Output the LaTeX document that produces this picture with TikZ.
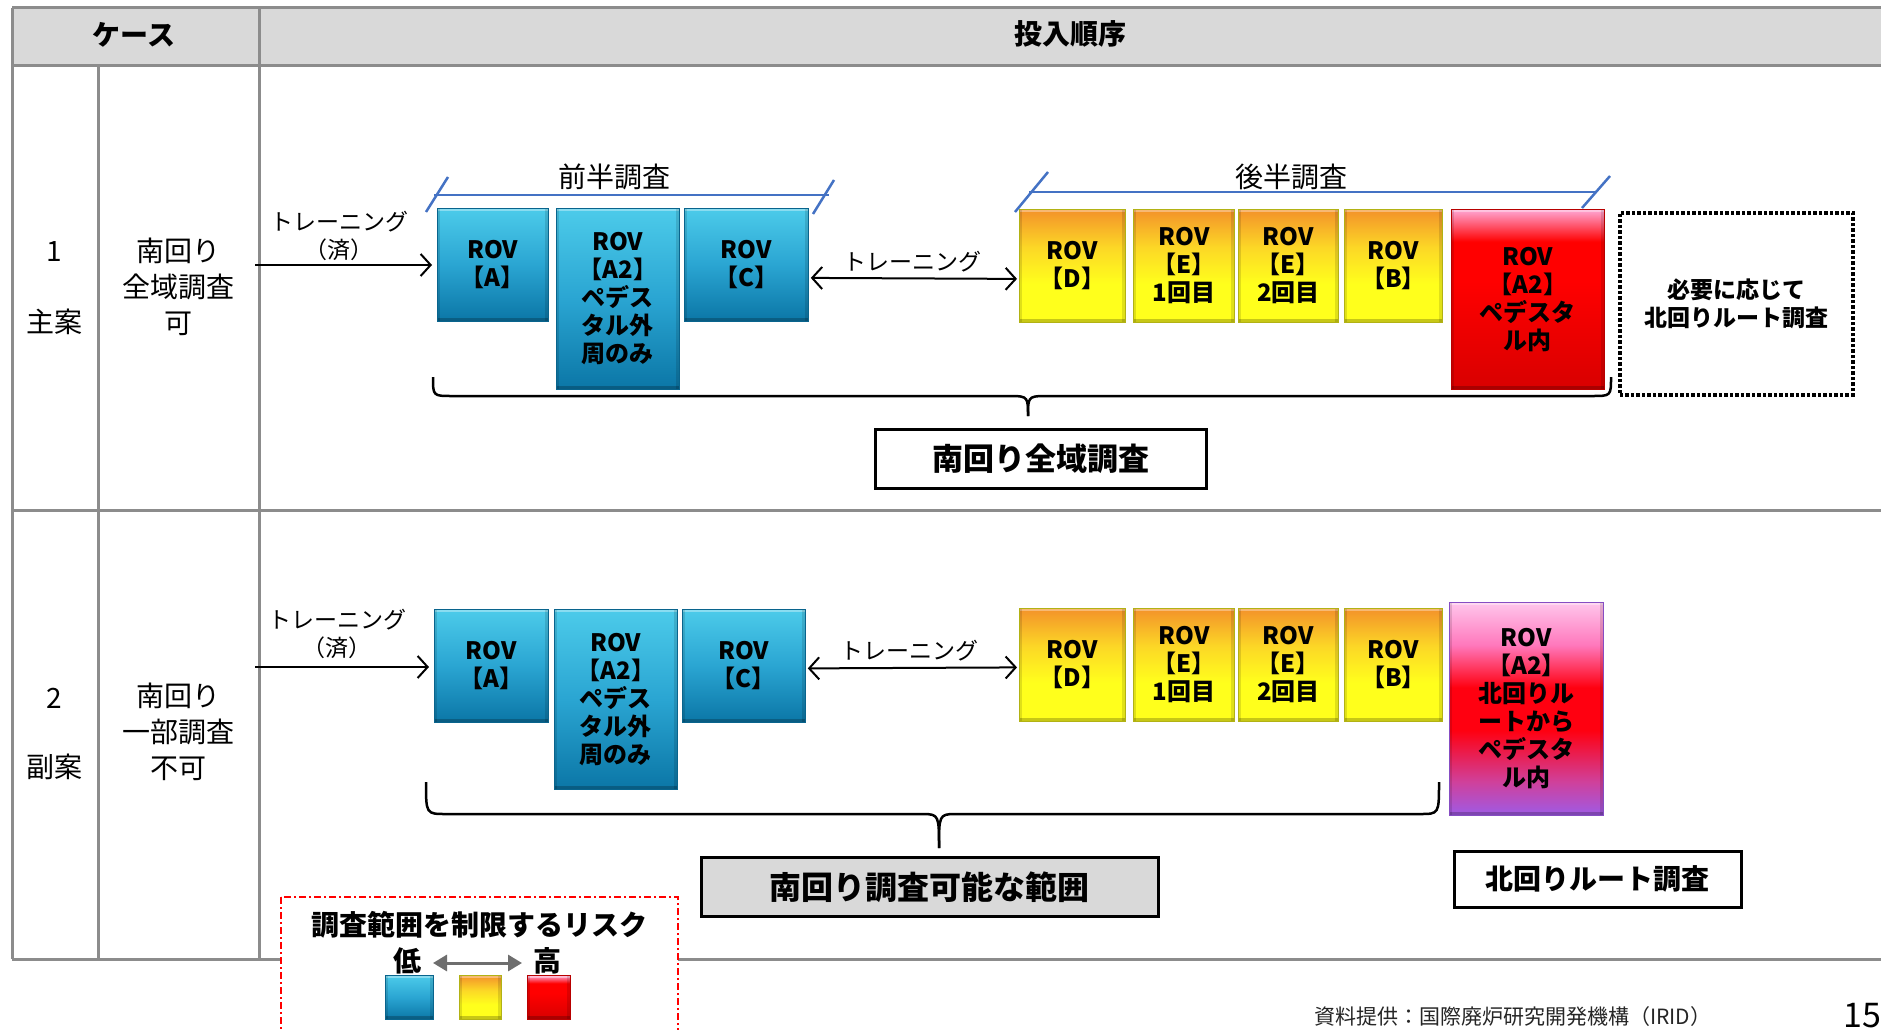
\documentclass[tikz,border=0pt]{standalone}
\usepackage{fontspec}
\setmainfont{Noto Sans CJK JP}
\usetikzlibrary{arrows.meta,calc}
\definecolor{tblline}{HTML}{8C8C8C}
\definecolor{hdrfill}{HTML}{D9D9D9}
\definecolor{bluebr}{HTML}{4472C4}
\definecolor{blueA}{HTML}{0B76A6}
\definecolor{blueB}{HTML}{2AA5D2}
\definecolor{blueC}{HTML}{4CCBEA}
\definecolor{yelA}{HTML}{FFFF1C}
\definecolor{yelB}{HTML}{FCD826}
\definecolor{yelC}{HTML}{F3922A}
\definecolor{redA}{HTML}{D80000}
\definecolor{redB}{HTML}{FF0000}
\definecolor{redC}{HTML}{FFA8D6}
\definecolor{purA}{HTML}{9E5BE6}
\definecolor{purB}{HTML}{D0409A}
\definecolor{purC}{HTML}{FF0010}
\definecolor{purD}{HTML}{FF78BC}
\definecolor{purE}{HTML}{FFC6EC}
\definecolor{legarrow}{HTML}{6E6E6E}
\pgfdeclareverticalshading{blueshade}{100bp}{color(0bp)=(blueA); color(25bp)=(blueA); color(50bp)=(blueB); color(75bp)=(blueC); color(100bp)=(blueC)}
\pgfdeclareverticalshading{yelshade}{100bp}{color(0bp)=(yelA); color(25bp)=(yelA); color(42bp)=(yelA); color(58bp)=(yelB); color(75bp)=(yelC); color(100bp)=(yelC)}
\pgfdeclareverticalshading{redshade}{100bp}{color(0bp)=(redA); color(25bp)=(redA); color(55bp)=(redB); color(66bp)=(redB); color(75bp)=(redC); color(100bp)=(redC)}
\pgfdeclareverticalshading{purshade}{100bp}{color(0bp)=(purA); color(25bp)=(purA); color(33bp)=(purB); color(45bp)=(purC); color(55bp)=(purC); color(65bp)=(purD); color(75bp)=(purE); color(100bp)=(purE)}
\tikzset{
  tline/.style={draw=tblline, line width=3pt},
  bevel/.style={path picture={
    \draw[white, opacity=0.35, line width=3pt]
      ([yshift=-1.5pt]path picture bounding box.north west) -- ([yshift=-1.5pt]path picture bounding box.north east);
    \draw[black, opacity=0.22, line width=3pt]
      ([yshift=1.5pt]path picture bounding box.south west) -- ([yshift=1.5pt]path picture bounding box.south east);
    \draw[black, opacity=0.12, line width=3pt]
      ([xshift=1.5pt]path picture bounding box.south west) -- ([xshift=1.5pt]path picture bounding box.north west);
    \draw[black, opacity=0.12, line width=3pt]
      ([xshift=-1.5pt]path picture bounding box.south east) -- ([xshift=-1.5pt]path picture bounding box.north east);
  }},
  rovbox/.style={rectangle, inner sep=0pt, anchor=north west, align=center,
    font=\bfseries\fontsize{24}{28}\selectfont, text=black, shade, line width=0.8pt, bevel},
  bluebox/.style={rovbox, shading=blueshade, draw=blueA!85!black},
  yelbox/.style={rovbox, shading=yelshade, draw=yelA!70!black},
  redbox/.style={rovbox, shading=redshade, draw=redA!85!black},
  purbox/.style={rovbox, shading=purshade, draw=purA!85!black},
  celltext/.style={inner sep=0pt, align=center, font=\fontsize{28}{36}\selectfont},
  hdrtext/.style={inner sep=0pt, font=\bfseries\fontsize{28}{34}\selectfont},
  trtext/.style={inner sep=0pt, align=center, font=\fontsize{23}{28}\selectfont},
  phasetext/.style={inner sep=0pt, font=\fontsize{28}{34}\selectfont},
  bluebrk/.style={draw=bluebr, line width=2.5pt},
  arr/.style={draw=black, line width=2pt, -{Straight Barb[length=10pt,width=22pt,line width=2pt]}},
  darr/.style={draw=black, line width=2pt, {Straight Barb[length=10pt,width=22pt,line width=2pt]}-{Straight Barb[length=10pt,width=22pt,line width=2pt]}},
  bracepath/.style={draw=black, line width=2.5pt},
  sumbox/.style={draw=black, line width=2.5pt, inner sep=0pt, anchor=north west, font=\bfseries\fontsize{31}{36}\selectfont},
}
\begin{document}
\begin{tikzpicture}[x=1pt,y=-1pt]
\useasboundingbox (0,0) rectangle (1881,1030);
\fill[white] (0,0) rectangle (1881,1030);
% table
\fill[hdrfill] (12,8) rectangle (1881,66);
\draw[tline] (12,8) -- (1881,8);
\draw[tline] (12,66) -- (1881,66);
\draw[tline] (12,510) -- (1881,510);
\draw[tline] (12,959) -- (1881,959);
\draw[tline] (12,8) -- (12,959);
\draw[tline] (98,66) -- (98,959);
\draw[tline] (259,8) -- (259,959);
\node[hdrtext] (hcase) at (134,35) {ケース};
\node[hdrtext] (horder) at (1070,34) {投入順序};
% row 1 labels
\node[celltext] (n1) at (54,252) {1};
\node[celltext] (m1) at (54,322) {主案};
\node[celltext] (d1txt) at (178,287) {南回り\\全域調査\\可};
% row 2 labels
\node[celltext] (n2) at (54,698) {2};
\node[celltext] (m2) at (54,767) {副案};
\node[celltext] (d2txt) at (178,732) {南回り\\一部調査\\不可};

% ---------- row 1 ----------
\node[bluebox, minimum width=111pt, minimum height=113pt] (ra) at (437,208) {ROV\\【A】};
\node[bluebox, minimum width=123pt, minimum height=181pt] (ra2) at (556,208) {ROV\\【A2】\\ペデス\\タル外\\周のみ};
\node[bluebox, minimum width=124pt, minimum height=113pt] (rc) at (684,208) {ROV\\【C】};
\node[yelbox, minimum width=106pt, minimum height=113pt] (rd) at (1019,209) {ROV\\【D】};
\node[yelbox, minimum width=101pt, minimum height=113pt] (re1) at (1133,209) {ROV\\【E】\\1回目};
\node[yelbox, minimum width=100pt, minimum height=113pt] (re2) at (1238,209) {ROV\\【E】\\2回目};
\node[yelbox, minimum width=98pt, minimum height=113pt] (rb) at (1344,209) {ROV\\【B】};
\node[redbox, minimum width=153pt, minimum height=180pt] (rr) at (1451,209) {ROV\\【A2】\\ペデスタ\\ル内};
\node[draw=black, dotted, line width=3.5pt, inner sep=0pt, anchor=north west,
  minimum width=233pt, minimum height=182pt, align=center,
  font=\bfseries\fontsize{23}{28}\selectfont] (rn) at (1618,211) {必要に応じて\\北回りルート調査};
% phase brackets
\draw[bluebrk] (434,195) -- (829,195);
\draw[bluebrk] (448,177) -- (426,212);
\draw[bluebrk] (834,180) -- (813,214);
\node[phasetext] (ph1) at (614,177) {前半調査};
\draw[bluebrk] (1029,192) -- (1596,192);
\draw[bluebrk] (1048,172) -- (1015,212);
\draw[bluebrk] (1610,176) -- (1582,208);
\node[phasetext] (ph2) at (1291,177) {後半調査};
% arrows
\coordinate (s1) at (255,265);
\draw[arr, shorten >=5pt] (s1) -- (s1 -| ra.west);
\node[trtext] (t1) at (339,222) {トレーニング};
\node[trtext] (t1b) at (339,250) {（済）};
\draw[darr, shorten <=2pt, shorten >=2pt] ($(rc.east)+(0,13)$) -- ($(rd.west)+(0,13)$);
\node[trtext] (t2) at (912,262) {トレーニング};
% brace
\draw[bracepath] (433,377) .. controls (433,396) and (433,396) .. (452,396) -- (1012,396)
  .. controls (1028,396) and (1028,398) .. (1028,416);
\draw[bracepath] (1028,416) .. controls (1028,398) and (1028,396) .. (1044,396) -- (1592,396)
  .. controls (1611,396) and (1611,396) .. (1611,377);
\node[sumbox, minimum width=331pt, minimum height=59pt] (sum1) at (874,428) {南回り全域調査};

% ---------- row 2 ----------
\node[bluebox, minimum width=114pt, minimum height=113pt] (qa) at (434,609) {ROV\\【A】};
\node[bluebox, minimum width=123pt, minimum height=180pt] (qa2) at (554,609) {ROV\\【A2】\\ペデス\\タル外\\周のみ};
\node[bluebox, minimum width=123pt, minimum height=113pt] (qc) at (682,609) {ROV\\【C】};
\node[yelbox, minimum width=106pt, minimum height=113pt] (qd) at (1019,608) {ROV\\【D】};
\node[yelbox, minimum width=101pt, minimum height=113pt] (qe1) at (1133,608) {ROV\\【E】\\1回目};
\node[yelbox, minimum width=100pt, minimum height=113pt] (qe2) at (1238,608) {ROV\\【E】\\2回目};
\node[yelbox, minimum width=98pt, minimum height=113pt] (qb) at (1344,608) {ROV\\【B】};
\node[purbox, minimum width=154pt, minimum height=213pt] (qp) at (1449,602) {ROV\\【A2】\\北回りル\\ートから\\ペデスタ\\ル内};
\coordinate (s2) at (255,667);
\draw[arr, shorten >=5pt] (s2) -- (s2 -| qa.west);
\node[trtext] (u1) at (337,620) {トレーニング};
\node[trtext] (u1b) at (337,648) {（済）};
\draw[darr, shorten <=2pt, shorten >=2pt] ($(qc.east)+(0,2.5)$) -- ($(qd.west)+(0,2.5)$);
\node[trtext] (u2) at (909,651) {トレーニング};
\draw[bracepath] (426,782) .. controls (426,814) and (426,814) .. (446,814) -- (923,814)
  .. controls (939,814) and (939,816) .. (939,848);
\draw[bracepath] (939,848) .. controls (939,816) and (939,814) .. (955,814) -- (1420,814)
  .. controls (1439,814) and (1439,814) .. (1439,782);
\node[sumbox, fill=hdrfill, minimum width=457pt, minimum height=59pt,
  font=\bfseries\fontsize{32}{36}\selectfont] (sum2) at (700,856) {南回り調査可能な範囲};
\node[sumbox, minimum width=287pt, minimum height=56pt,
  font=\bfseries\fontsize{28}{34}\selectfont] (sum3) at (1453,850) {北回りルート調査};

% ---------- legend ----------
\path[fill=white, draw=red, line width=1.5pt, dash pattern=on 7pt off 3pt on 2pt off 3pt]
  (281,897) rectangle (678,1045);
\node[hdrtext] (legt) at (479,925) {調査範囲を制限するリスク};
\node[hdrtext] (lo) at (407,961) {低};
\node[hdrtext] (hi) at (547,961) {高};
\coordinate (la) at (433,963);
\coordinate (lb) at (522,963);
\draw[draw=legarrow, line width=3pt, {Triangle[length=14pt,width=16pt]}-{Triangle[length=14pt,width=16pt]}]
  (la) -- (lb);
\node[bluebox, minimum width=48pt, minimum height=44pt] (lg1) at (385,975) {};
\node[yelbox, minimum width=42pt, minimum height=44pt] (lg2) at (459,975) {};
\node[redbox, minimum width=43pt, minimum height=44pt] (lg3) at (527,975) {};

% footer
\node[inner sep=0pt, anchor=base west, font=\fontsize{21}{24}\selectfont, text=black!85] (src) at (1314,1024) {資料提供：国際廃炉研究開発機構（IRID）};
\node[inner sep=0pt, anchor=base west, font=\fontsize{34}{38}\selectfont] (pg) at (1843,1027) {15};
\end{tikzpicture}
\end{document}
